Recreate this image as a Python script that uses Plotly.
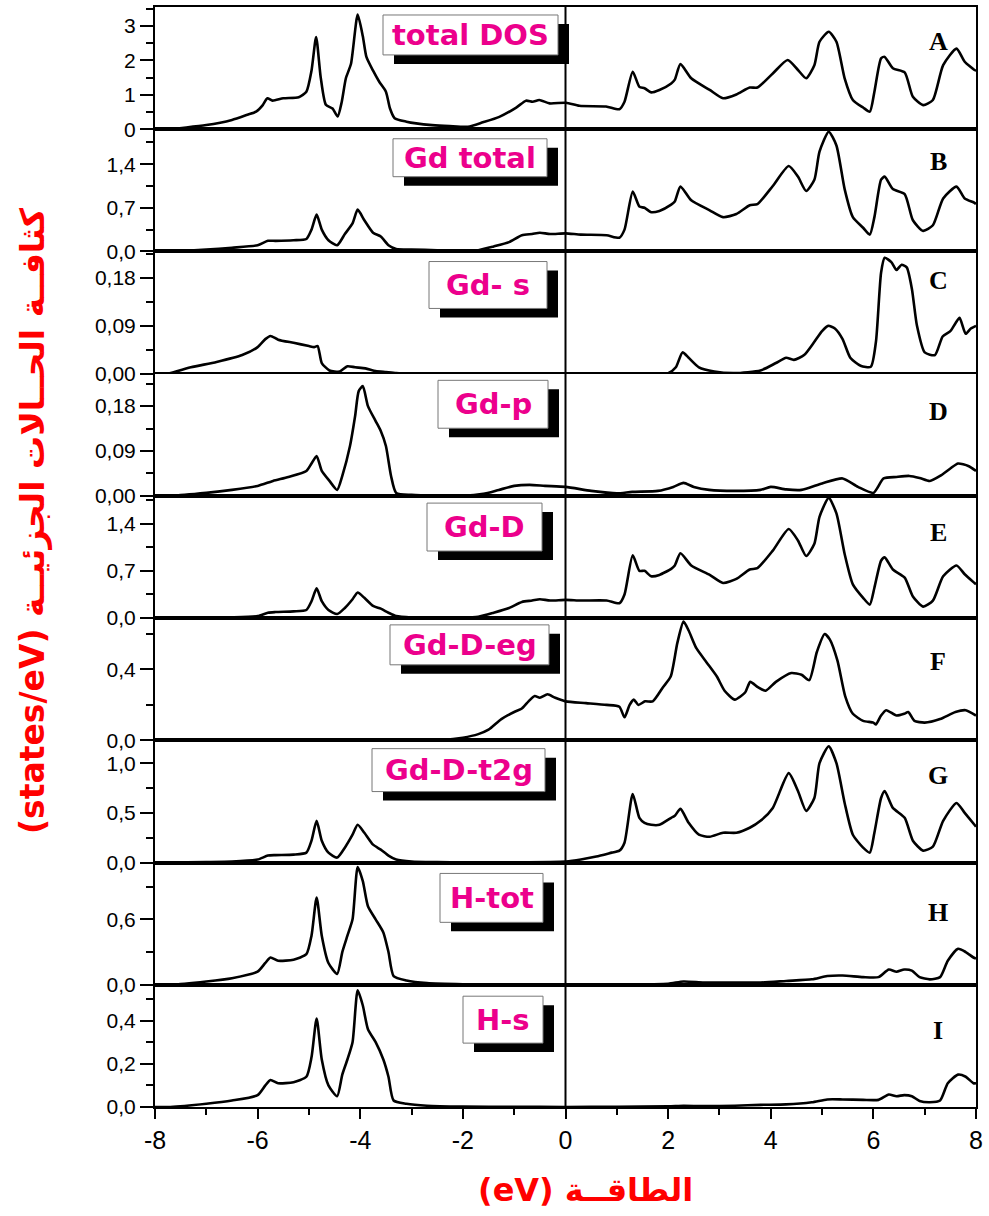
import plotly.graph_objects as go
from plotly.subplots import make_subplots

# ---------------- data ----------------
panel_names = ["total DOS", "Gd total", "Gd- s", "Gd-p", "Gd-D", "Gd-D-eg", "Gd-D-t2g", "H-tot", "H-s"]
panel_letters = ["A", "B", "C", "D", "E", "F", "G", "H", "I"]

A_x = [-8.0, -7.76, -7.0, -6.5, -6.2, -6.03, -5.9, -5.81, -5.71, -5.5, -5.2, -5.05, -4.95, -4.86, -4.77, -4.67,
       -4.54, -4.44, -4.36, -4.28, -4.18, -4.05, -3.95, -3.88, -3.75, -3.63, -3.5, -3.42, -3.33, -3.1, -2.91, -2.6,
       -2.26, -1.9, -1.61, -1.29, -0.96, -0.77, -0.64, -0.51, -0.31, 0.01, 0.27, 0.79, 1.05, 1.15, 1.31, 1.44,
       1.54, 1.67, 1.83, 2.06, 2.13, 2.24, 2.45, 2.81, 3.07, 3.33, 3.59, 3.74, 4.04, 4.33, 4.53, 4.69, 4.85, 4.95,
       5.13, 5.28, 5.44, 5.6, 5.8, 5.93, 6.02, 6.15, 6.22, 6.38, 6.61, 6.77, 6.97, 7.16, 7.36, 7.62, 7.78, 7.97, 8.0]
A_y = [0.0, 0.0, 0.12, 0.27, 0.42, 0.51, 0.7, 0.9, 0.83, 0.9, 0.93, 1.09, 1.7, 2.68, 1.5, 0.71,
       0.6, 0.37, 0.8, 1.48, 1.9, 3.33, 2.7, 2.1, 1.7, 1.38, 1.09, 0.6, 0.32, 0.22, 0.17, 0.12,
       0.09, 0.07, 0.2, 0.36, 0.63, 0.83, 0.8, 0.85, 0.75, 0.77, 0.68, 0.66, 0.58, 0.8, 1.67, 1.23,
       1.19, 1.07, 1.14, 1.33, 1.44, 1.89, 1.48, 1.14, 0.9, 1.01, 1.21, 1.21, 1.62, 2.01, 1.72, 1.48, 1.86, 2.54,
       2.83, 2.54, 1.48, 0.85, 0.63, 0.51, 1.09, 2.06, 2.1, 1.77, 1.65, 0.94, 0.7, 0.85, 1.86, 2.34, 1.96, 1.72, 1.7]

B_x = [-8.0, -7.76, -7.0, -6.5, -6.0, -5.8, -5.65, -5.3, -5.05, -4.95, -4.85, -4.75, -4.62, -4.45, -4.3, -4.15,
       -4.05, -3.92, -3.75, -3.6, -3.45, -3.3, -3.0, -2.5, -2.0, -1.7, -1.4, -1.1, -0.85, -0.65, -0.5, -0.3,
       0.0, 0.3, 0.8, 1.05, 1.15, 1.31, 1.44, 1.54, 1.67, 1.83, 2.06, 2.13, 2.24, 2.45, 2.81, 3.07, 3.33, 3.59,
       3.74, 4.04, 4.35, 4.53, 4.69, 4.85, 4.95, 5.13, 5.28, 5.44, 5.6, 5.8, 5.93, 6.02, 6.15, 6.22, 6.38, 6.61,
       6.77, 6.97, 7.16, 7.36, 7.62, 7.78, 7.97, 8.0]
B_y = [0.0, 0.0, 0.03, 0.06, 0.1, 0.17, 0.17, 0.18, 0.2, 0.35, 0.59, 0.35, 0.18, 0.1, 0.28, 0.45,
       0.67, 0.5, 0.3, 0.24, 0.1, 0.04, 0.03, 0.02, 0.01, 0.02, 0.08, 0.15, 0.26, 0.28, 0.3, 0.28,
       0.29, 0.27, 0.26, 0.22, 0.35, 0.96, 0.72, 0.7, 0.63, 0.65, 0.75, 0.8, 1.04, 0.82, 0.66, 0.55, 0.6, 0.74,
       0.76, 1.05, 1.37, 1.2, 0.97, 1.15, 1.6, 1.92, 1.7, 1.0, 0.55, 0.38, 0.27, 0.55, 1.15, 1.2, 1.0, 0.92,
       0.5, 0.33, 0.42, 0.85, 1.04, 0.85, 0.78, 0.76]

C_x = [-8.0, -7.75, -7.3, -6.8, -6.3, -6.0, -5.85, -5.75, -5.6, -5.3, -5.0, -4.9, -4.83, -4.75, -4.6, -4.4,
       -4.25, -4.1, -3.9, -3.7, -3.5, -3.3, -3.0, -2.0, 0.0, 1.0, 2.0, 2.15, 2.28, 2.4, 2.6, 2.9, 3.3, 3.8,
       4.1, 4.3, 4.45, 4.65, 4.85, 5.0, 5.12, 5.25, 5.4, 5.55, 5.75, 5.95, 6.05, 6.15, 6.22, 6.35, 6.45, 6.55,
       6.65, 6.75, 6.85, 7.0, 7.2, 7.35, 7.5, 7.6, 7.68, 7.8, 7.9, 8.0]
C_y = [0.0, 0.0, 0.012, 0.022, 0.035, 0.05, 0.065, 0.071, 0.064, 0.058, 0.052, 0.05, 0.052, 0.02, 0.006, 0.004,
       0.014, 0.012, 0.01, 0.005, 0.003, 0.001, 0.0, 0.0, 0.0, 0.0, 0.001, 0.012, 0.04, 0.03, 0.012, 0.004, 0.001, 0.006,
       0.02, 0.03, 0.026, 0.035, 0.06, 0.08, 0.09, 0.085, 0.065, 0.03, 0.015, 0.013, 0.06, 0.19, 0.218, 0.21, 0.195, 0.205,
       0.2, 0.16, 0.09, 0.04, 0.035, 0.07, 0.08, 0.095, 0.105, 0.075, 0.085, 0.09]

D_x = [-8.0, -7.7, -7.0, -6.5, -6.0, -5.7, -5.4, -5.05, -4.95, -4.85, -4.75, -4.6, -4.45, -4.35, -4.2, -4.1,
       -4.03, -3.95, -3.85, -3.7, -3.6, -3.5, -3.4, -3.3, -3.0, -2.0, -1.6, -1.3, -1.0, -0.7, -0.4, 0.0,
       0.5, 1.0, 1.3, 1.8, 2.1, 2.3, 2.5, 2.8, 3.3, 3.8, 4.0, 4.3, 4.6, 5.0, 5.4, 5.7, 6.0, 6.2,
       6.45, 6.7, 6.9, 7.1, 7.3, 7.5, 7.65, 7.85, 8.0]
D_y = [0.0, 0.0, 0.006, 0.012, 0.02, 0.03, 0.038, 0.05, 0.065, 0.08, 0.05, 0.03, 0.012, 0.04, 0.1, 0.16,
       0.21, 0.22, 0.18, 0.15, 0.13, 0.1, 0.04, 0.006, 0.002, 0.0, 0.004, 0.012, 0.02, 0.022, 0.02, 0.018,
       0.01, 0.005, 0.008, 0.01, 0.018, 0.026, 0.018, 0.012, 0.01, 0.012, 0.018, 0.013, 0.012, 0.025, 0.035, 0.018, 0.006, 0.035,
       0.038, 0.04, 0.036, 0.03, 0.04, 0.055, 0.065, 0.06, 0.05]

E_x = B_x
E_y = [0.0, 0.0, 0.005, 0.01, 0.03, 0.08, 0.09, 0.1, 0.12, 0.25, 0.44, 0.25, 0.12, 0.06, 0.15, 0.28,
       0.38, 0.3, 0.18, 0.14, 0.08, 0.03, 0.01, 0.005, 0.005, 0.02, 0.08, 0.15, 0.24, 0.26, 0.28, 0.26,
       0.27, 0.26, 0.26, 0.22, 0.35, 0.93, 0.7, 0.7, 0.62, 0.64, 0.73, 0.78, 0.96, 0.78, 0.64, 0.52, 0.58, 0.72,
       0.74, 1.0, 1.32, 1.15, 0.92, 1.1, 1.5, 1.78, 1.55, 0.95, 0.5, 0.3, 0.2, 0.45, 0.85, 0.9, 0.72, 0.6,
       0.32, 0.17, 0.26, 0.62, 0.78, 0.65, 0.52, 0.5]

F_x = [-8.0, -6.0, -4.0, -3.0, -2.4, -2.0, -1.7, -1.5, -1.25, -1.0, -0.85, -0.72, -0.6, -0.5, -0.35, -0.2,
       0.0, 0.4, 0.8, 1.05, 1.15, 1.25, 1.33, 1.42, 1.55, 1.7, 1.9, 2.05, 2.18, 2.3, 2.4, 2.55, 2.75, 2.95,
       3.1, 3.3, 3.5, 3.6, 3.75, 3.9, 4.1, 4.4, 4.6, 4.75, 4.9, 5.05, 5.15, 5.3, 5.45, 5.6, 5.8, 6.0,
       6.05, 6.15, 6.25, 6.45, 6.6, 6.68, 6.8, 7.0, 7.3, 7.6, 7.8, 8.0]
F_y = [0.0, 0.0, 0.0, 0.0, 0.002, 0.015, 0.035, 0.06, 0.12, 0.16, 0.18, 0.22, 0.25, 0.24, 0.26, 0.24,
       0.22, 0.21, 0.2, 0.19, 0.13, 0.2, 0.23, 0.2, 0.22, 0.22, 0.3, 0.36, 0.55, 0.67, 0.62, 0.52, 0.44, 0.36,
       0.28, 0.23, 0.27, 0.33, 0.3, 0.28, 0.33, 0.38, 0.37, 0.34, 0.5, 0.6, 0.57, 0.45, 0.25, 0.15, 0.11, 0.1,
       0.09, 0.14, 0.17, 0.14, 0.15, 0.16, 0.11, 0.1, 0.12, 0.16, 0.17, 0.14]

G_x = [-8.0, -7.76, -7.0, -6.5, -6.0, -5.8, -5.65, -5.3, -5.05, -4.95, -4.85, -4.75, -4.62, -4.45, -4.3, -4.15,
       -4.05, -3.92, -3.75, -3.6, -3.45, -3.3, -3.0, -2.5, -2.0, -1.0, 0.0, 0.3, 0.6, 0.9, 1.05, 1.15,
       1.31, 1.44, 1.54, 1.67, 1.83, 2.06, 2.13, 2.24, 2.4, 2.6, 2.81, 3.07, 3.33, 3.59, 3.8, 4.04,
       4.35, 4.53, 4.69, 4.85, 4.95, 5.13, 5.28, 5.44, 5.6, 5.8, 5.93, 6.02, 6.15, 6.22, 6.38, 6.61,
       6.77, 6.97, 7.16, 7.36, 7.62, 7.78, 7.97, 8.0]
G_y = [0.0, 0.0, 0.005, 0.01, 0.03, 0.07, 0.075, 0.08, 0.1, 0.22, 0.42, 0.22, 0.1, 0.05, 0.15, 0.28,
       0.38, 0.3, 0.18, 0.13, 0.07, 0.03, 0.01, 0.004, 0.002, 0.002, 0.01, 0.03, 0.06, 0.1, 0.12, 0.2,
       0.69, 0.45, 0.4, 0.38, 0.38, 0.45, 0.47, 0.54, 0.4, 0.28, 0.26, 0.3, 0.3, 0.35, 0.42, 0.55,
       0.9, 0.72, 0.52, 0.65, 1.0, 1.17, 1.0, 0.6, 0.28, 0.15, 0.1, 0.3, 0.65, 0.72, 0.55, 0.45,
       0.22, 0.12, 0.16, 0.42, 0.6, 0.5, 0.38, 0.36]

H_x = [-8.0, -7.7, -7.0, -6.5, -6.0, -5.85, -5.75, -5.6, -5.3, -5.05, -4.95, -4.85, -4.75, -4.62, -4.45, -4.35,
       -4.25, -4.15, -4.05, -3.95, -3.85, -3.7, -3.55, -3.45, -3.35, -3.1, -2.7, -2.0, -1.0, 0.0, 1.0, 2.0,
       2.3, 2.7, 3.3, 3.8, 4.3, 4.8, 5.1, 5.4, 5.8, 6.1, 6.3, 6.45, 6.6, 6.75, 6.9, 7.1, 7.3, 7.45,
       7.65, 7.8, 7.95, 8.0]
H_y = [0.0, 0.0, 0.03, 0.06, 0.12, 0.2, 0.25, 0.22, 0.23, 0.28, 0.45, 0.8, 0.45, 0.2, 0.1, 0.3,
       0.45, 0.6, 1.08, 0.95, 0.72, 0.6, 0.48, 0.3, 0.08, 0.04, 0.015, 0.005, 0.002, 0.0, 0.002, 0.01,
       0.03, 0.02, 0.02, 0.02, 0.035, 0.05, 0.08, 0.085, 0.07, 0.07, 0.14, 0.12, 0.14, 0.13, 0.07, 0.05, 0.07, 0.22,
       0.33, 0.3, 0.25, 0.24]

I_x = H_x
I_y = [0.0, 0.0, 0.015, 0.03, 0.055, 0.1, 0.125, 0.11, 0.115, 0.14, 0.23, 0.41, 0.22, 0.1, 0.05, 0.15,
       0.22, 0.3, 0.54, 0.47, 0.36, 0.3, 0.22, 0.14, 0.03, 0.015, 0.006, 0.002, 0.001, 0.0, 0.001, 0.003,
       0.005, 0.004, 0.006, 0.01, 0.012, 0.022, 0.035, 0.035, 0.033, 0.033, 0.058, 0.05, 0.055, 0.05, 0.028, 0.022, 0.03, 0.11,
       0.15, 0.14, 0.11, 0.11]

panel_x = [A_x, B_x, C_x, D_x, E_x, F_x, G_x, H_x, I_x]
panel_y = [A_y, B_y, C_y, D_y, E_y, F_y, G_y, H_y, I_y]

y_max = [3.55, 1.96, 0.23, 0.245, 1.81, 0.69, 1.23, 1.12, 0.566]
y_tickvals = [[0, 1, 2, 3], [0, 0.7, 1.4], [0, 0.09, 0.18], [0, 0.09, 0.18], [0, 0.7, 1.4],
              [0, 0.4], [0, 0.5, 1.0], [0, 0.6], [0, 0.2, 0.4]]
y_ticktext = [["0", "1", "2", "3"], ["0,0", "0,7", "1,4"], ["0,00", "0,09", "0,18"], ["0,00", "0,09", "0,18"],
              ["0,0", "0,7", "1,4"], ["0,0", "0,4"], ["0,0", "0,5", "1,0"], ["0,0", "0,6"], ["0,0", "0,2", "0,4"]]
y_minor_step = [0.5, 0.35, 0.045, 0.045, 0.35, 0.2, 0.25, 0.3, 0.1]

x_tickvals = [-8, -6, -4, -2, 0, 2, 4, 6, 8]
x_ticktext = ["-8", "-6", "-4", "-2", "0", "2", "4", "6", "8"]

x_title = "(eV) الطاقــة"
y_title = "(states/eV) كثافــة الحــالات الجزئيــة"

# ---------------- layout geometry (pixels) ----------------
W, H = 989, 1216
ML, MR, MT, MB = 155, 13, 5, 109
PW = W - ML - MR
PH = H - MT - MB


def pxx(p):
    return (p - ML) / PW


def pxy(p):
    return (H - MB - p) / PH


# label boxes: (x0, y0, x1, y1) in pixels of the white box
label_boxes = [(383, 13, 558, 53), (393, 137, 547, 175), (429, 260, 547, 307), (438, 379, 548, 427),
               (427, 502, 542, 550), (390, 624, 549, 664), (372, 748, 545, 791), (440, 873, 543, 922),
               (463, 996, 543, 1043)]
letter_y = [40, 160, 279, 410, 531, 661, 775, 912, 1030]

fig = make_subplots(rows=9, cols=1, shared_xaxes=True, vertical_spacing=0)

for i in range(9):
    fig.add_trace(go.Scatter(x=panel_x[i], y=panel_y[i], mode="lines",
                             line=dict(color="black", width=2.6, shape="spline", smoothing=0.6),
                             showlegend=False, hoverinfo="skip"), row=i + 1, col=1)
    fig.update_yaxes(range=[0, y_max[i]], tickmode="array", tickvals=y_tickvals[i], ticktext=y_ticktext[i],
                     ticks="outside", ticklen=13, tickwidth=2, tickcolor="black",
                     minor=dict(tickmode="linear", tick0=0, dtick=y_minor_step[i], ticks="outside",
                                ticklen=7, tickwidth=2, tickcolor="black", showgrid=False),
                     showline=True, linewidth=2, linecolor="black", mirror=True,
                     showgrid=False, zeroline=False,
                     tickfont=dict(family="Liberation Sans, Arial, sans-serif", size=21, color="black"),
                     row=i + 1, col=1)
    last = (i == 8)
    fig.update_xaxes(range=[-8, 8], showline=True, linewidth=2, linecolor="black", mirror=True,
                     showgrid=False, zeroline=False,
                     ticks="outside" if last else "", showticklabels=last,
                     tickmode="array", tickvals=x_tickvals, ticktext=x_ticktext,
                     ticklen=10, tickwidth=2, tickcolor="black",
                     minor=dict(tickmode="linear", tick0=-8, dtick=1, ticks="outside" if last else "",
                                ticklen=6, tickwidth=2, tickcolor="black", showgrid=False),
                     tickfont=dict(family="Liberation Sans, Arial, sans-serif", size=25, color="black"),
                     row=i + 1, col=1)

shapes = []
annotations = []
# vertical line at zero
shapes.append(dict(type="line", xref="x", yref="paper", x0=0, x1=0, y0=0, y1=1,
                   line=dict(color="black", width=2)))

for i in range(9):
    x0, y0, x1, y1 = label_boxes[i]
    dx, dy = 11, 9
    shapes.append(dict(type="rect", xref="paper", yref="paper",
                       x0=pxx(x0 + dx), x1=pxx(x1 + dx), y0=pxy(y1 + dy), y1=pxy(y0 + dy),
                       fillcolor="black", line=dict(width=0), layer="above"))
    shapes.append(dict(type="rect", xref="paper", yref="paper",
                       x0=pxx(x0), x1=pxx(x1), y0=pxy(y1), y1=pxy(y0),
                       fillcolor="white", line=dict(color="#777777", width=1), layer="above"))
    annotations.append(dict(xref="paper", yref="paper", x=pxx((x0 + x1) / 2), y=pxy((y0 + y1) / 2),
                            text="<b>" + panel_names[i] + "</b>", showarrow=False,
                            xanchor="center", yanchor="middle",
                            font=dict(family="DejaVu Sans, sans-serif", size=29, color="#EC008C")))
    annotations.append(dict(xref="paper", yref="paper", x=pxx(938), y=pxy(letter_y[i]),
                            text="<b>" + panel_letters[i] + "</b>", showarrow=False,
                            xanchor="center", yanchor="middle",
                            font=dict(family="Liberation Serif, Times New Roman, serif", size=26, color="black")))

annotations.append(dict(xref="paper", yref="paper", x=pxx(585), y=pxy(1190), text="<b>" + x_title + "</b>",
                        showarrow=False, xanchor="center", yanchor="middle",
                        font=dict(family="DejaVu Sans, sans-serif", size=32, color="#FF0000")))
annotations.append(dict(xref="paper", yref="paper", x=pxx(33), y=pxy(520), text="<b>" + y_title + "</b>",
                        showarrow=False, xanchor="center", yanchor="middle", textangle=-90,
                        font=dict(family="DejaVu Sans, sans-serif", size=33, color="#FF0000")))

fig.update_layout(width=W, height=H, margin=dict(l=ML, r=MR, t=MT, b=MB),
                  plot_bgcolor="white", paper_bgcolor="white",
                  shapes=shapes, annotations=annotations, showlegend=False)

fig.write_html("out.html", config={"displayModeBar": False},
               post_script="document.body.style.margin='0px';")
